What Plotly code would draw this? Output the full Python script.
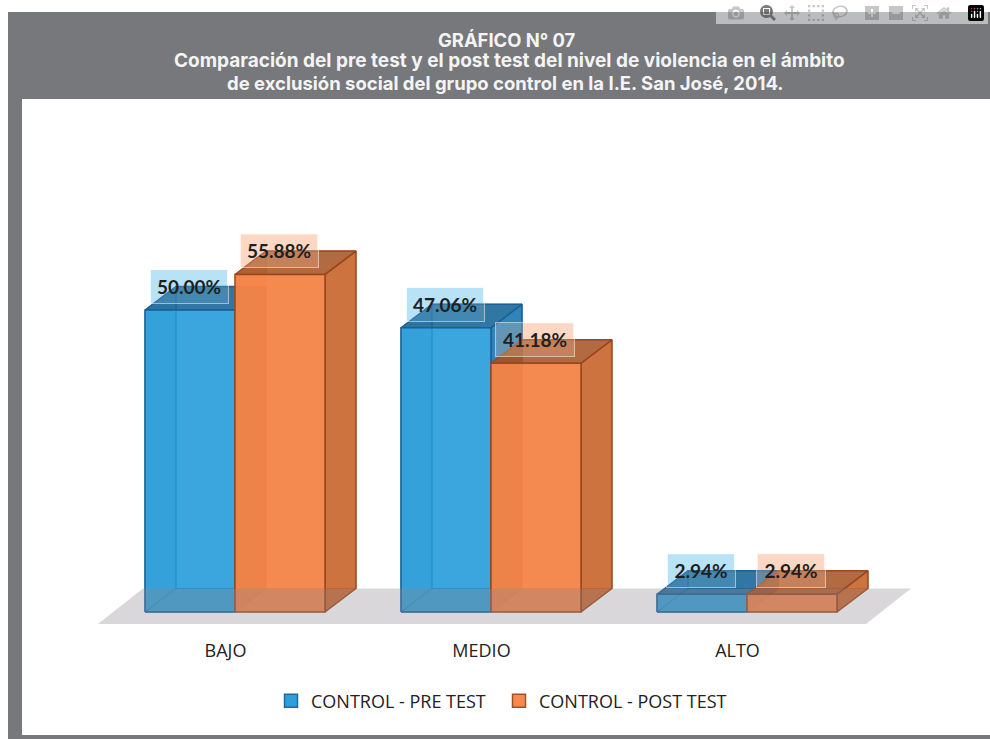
import plotly.graph_objects as go

categories = ["BAJO", "MEDIO", "ALTO"]
pre_test = [50.00, 47.06, 2.94]
post_test = [55.88, 41.18, 2.94]
series_names = ["CONTROL - PRE TEST", "CONTROL - POST TEST"]
title_lines = [
    "GRÁFICO N° 07",
    "Comparación del pre test y el post test del nivel de violencia en el ámbito",
    "de exclusión social del grupo control en la I.E. San José, 2014.",
]

W, H = 990, 739
PX_PER_CAT = 256.0
PX_PER_PCT = 6.04
ORIGIN_X = 235.0   # pixel of first category centre
BASE_Y = 612.0     # pixel of 0 %
TOP_PIX, BOT_PIX = 100.0, 628.0
BAR_W = 90 / PX_PER_CAT
DX = 31 / PX_PER_CAT
DY = 23.5 / PX_PER_PCT
TICK_SHIFT = -9.5 / PX_PER_CAT

STYLES = [
    dict(front="rgba(32,152,216,0.88)", top="rgba(20,100,150,0.88)", side="rgba(20,115,175,0.88)",
         inner="rgba(20,110,170,0.22)", edge="rgba(24,96,150,0.95)", inner_edge="rgba(16,90,150,0.85)",
         swatch="#2f9fdb", swatch_edge="#1d6aa3", box="rgba(150,212,242,0.68)", veil="rgba(190,228,246,0.18)"),
    dict(front="rgba(244,132,71,0.95)", top="rgba(165,80,30,0.85)", side="rgba(196,90,30,0.85)",
         inner="rgba(235,100,30,0.35)", edge="rgba(150,70,30,0.95)", inner_edge="rgba(220,100,40,0.5)",
         swatch="#f58a50", swatch_edge="#a64f22", box="rgba(250,196,168,0.68)", veil="rgba(252,215,195,0.25)"),
]

fig = go.Figure()


def poly(xs, ys, fill, line, width=1.5):
    fig.add_trace(go.Scatter(
        x=xs + xs[:1], y=ys + ys[:1], mode="lines", fill="toself", fillcolor=fill,
        line=dict(color=line, width=width), hoverinfo="skip", showlegend=False))


x_left = -ORIGIN_X / PX_PER_CAT
floor_xs = [(98 - ORIGIN_X) / PX_PER_CAT, (143 - ORIGIN_X) / PX_PER_CAT,
            (911 - ORIGIN_X) / PX_PER_CAT, (866 - ORIGIN_X) / PX_PER_CAT]
floor_ys = [-12 / PX_PER_PCT, DY, DY, -12 / PX_PER_PCT]

for s, values in enumerate([pre_test, post_test]):
    st = STYLES[s]
    for i, v in enumerate(values):
        x0 = i + (s - 1) * BAR_W
        x1 = x0 + BAR_W
        # inner (left / back / bottom) faces
        poly([x0, x0 + DX, x0 + DX, x0], [0, DY, v + DY, v], st["inner"], st["inner_edge"], 1)
        poly([x0 + DX, x1 + DX, x1 + DX, x0 + DX], [DY, DY, v + DY, v + DY], "rgba(0,0,0,0)", st["inner_edge"], 1)
        poly([x0, x1, x1 + DX, x0 + DX], [0, 0, DY, DY], st["inner"], st["inner_edge"], 1)
        # outer faces
        poly([x1, x1 + DX, x1 + DX, x1], [0, DY, v + DY, v], st["side"], st["edge"])
        poly([x0, x1, x1 + DX, x0 + DX], [v, v, v + DY, v + DY], st["top"], st["edge"])
        poly([x0, x1, x1, x0], [0, 0, v, v], st["front"], st["edge"])

# translucent floor laid across the foot of the bars
poly(floor_xs, floor_ys, "rgba(140,135,140,0.33)", "rgba(0,0,0,0)", 0)

# legend entries
for s, name in enumerate(series_names):
    st = STYLES[s]
    fig.add_trace(go.Scatter(
        x=[None], y=[None], mode="markers", name=name, hoverinfo="skip",
        marker=dict(symbol="square", size=13, color=st["swatch"], line=dict(color=st["swatch_edge"], width=1.5))))

# data labels: tinted box under the bars, text and a faint veil over them
label_shapes = []
for s, values in enumerate([pre_test, post_test]):
    st = STYLES[s]
    for i, v in enumerate(values):
        cx = i + (s - 0.5) * BAR_W - 0.004
        bw = 76 if v >= 10 else 66
        fig.add_annotation(
            x=cx, y=v + DY, xref="x", yref="y",
            text=f"<b>{v:.2f}%</b>", showarrow=False,
            font=dict(family="Lato", size=19, color="#1f1f1f"),
            bgcolor=st["veil"], bordercolor="rgba(255,255,255,0.5)", borderwidth=1,
            width=bw, height=31, align="center", valign="middle")
        label_shapes.append(dict(
            type="rect", xref="x", yref="y", layer="below",
            x0=cx - bw / 2 / PX_PER_CAT, x1=cx + bw / 2 / PX_PER_CAT,
            y0=v + DY - 16.5 / PX_PER_PCT, y1=v + DY + 16.5 / PX_PER_PCT,
            fillcolor=st["box"], line=dict(width=0)))

for line, centre_x, centre_y, size in zip(title_lines, [507, 509, 506], [40, 61, 83], [18.4, 19, 18.5]):
    fig.add_annotation(
        x=centre_x / W, y=1 - centre_y / H, xref="paper", yref="paper",
        text=line, showarrow=False, xanchor="center", yanchor="middle",
        font=dict(family="Inter", size=size, color="#f4f4f4", weight=700))

GREY = "#77787b"
frame = [
    dict(x0=8, x1=W, y0=12, y1=99),
    dict(x0=8, x1=22, y0=99, y1=H),
    dict(x0=8, x1=W, y0=735, y1=H),
]
fig.update_layout(
    width=W, height=H,
    autosize=False,
    margin=dict(l=0, r=0, t=0, b=0),
    paper_bgcolor="white", plot_bgcolor="rgba(0,0,0,0)",
    xaxis=dict(range=[x_left, (W - ORIGIN_X) / PX_PER_CAT], tickmode="array",
               tickvals=[i + TICK_SHIFT for i in range(len(categories))], ticktext=categories,
               showgrid=False, zeroline=False, showline=False,
               ticks="outside", ticklen=6, tickcolor="rgba(0,0,0,0)",
               tickfont=dict(family="Open Sans", size=18, color="#222222"), automargin=False),
    yaxis=dict(range=[(BASE_Y - BOT_PIX) / PX_PER_PCT, (BASE_Y - TOP_PIX) / PX_PER_PCT],
               domain=[1 - BOT_PIX / H, 1 - TOP_PIX / H], visible=False),
    legend=dict(orientation="h", x=499 / W, xanchor="center",
                y=1 - 701 / H, yanchor="middle",
                font=dict(family="Open Sans", size=18, color="#222222"),
                itemwidth=30, entrywidthmode="pixels", entrywidth=183, bgcolor="rgba(0,0,0,0)"),
    shapes=[dict(type="rect", xref="paper", yref="paper", x0=s["x0"] / W, x1=s["x1"] / W,
                 y0=1 - s["y1"] / H, y1=1 - s["y0"] / H, fillcolor=GREY, line=dict(width=0), layer="below")
            for s in frame] + label_shapes,
)
fig.write_html("out.html", post_script="document.body.style.margin='0';")
